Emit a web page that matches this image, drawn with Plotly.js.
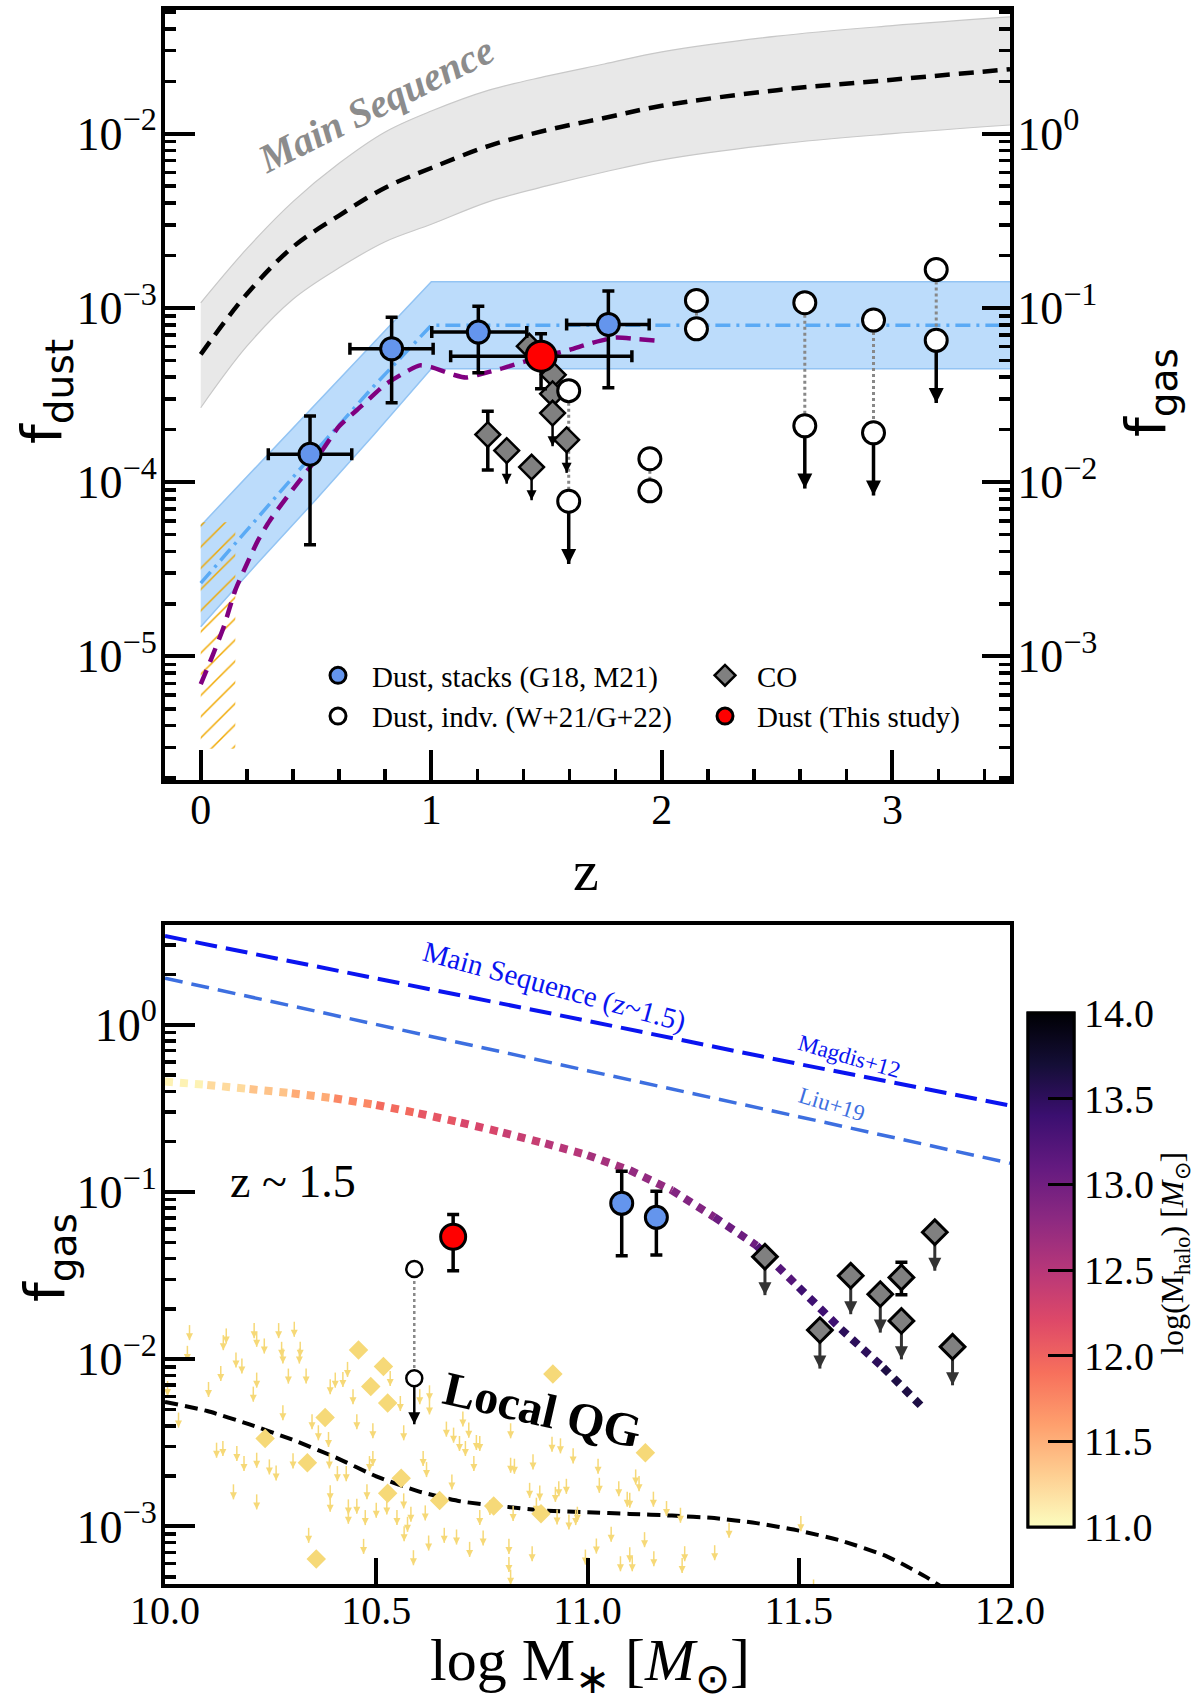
<!DOCTYPE html>
<html>
<head>
<meta charset="utf-8">
<script src="https://cdn.plot.ly/plotly-3.0.1.min.js"></script>
<style>body{margin:0;background:#fff}</style>
</head>
<body>
<div id="myDiv"></div>
<script>
// all f values below are log10

// ---- top panel: f_dust vs z ----
// main sequence band (grey) and its dashed middle line
let msZ = [0, 0.2, 0.4, 0.6, 0.8, 1.0, 1.25, 1.5, 1.75, 2.0, 2.5, 3.0, 3.51]
let msMid = [-3.267, -2.92, -2.65, -2.47, -2.31, -2.197, -2.07, -1.98, -1.91, -1.84, -1.75, -1.69, -1.63]
let msHi = [-2.971, -2.66, -2.39, -2.17, -1.99, -1.87, -1.75, -1.67, -1.60, -1.53, -1.44, -1.38, -1.33]
let msLo = [-3.573, -3.22, -2.95, -2.77, -2.62, -2.52, -2.39, -2.30, -2.22, -2.15, -2.06, -2.00, -1.95]

// stacked dust band (blue) with dash-dot middle
let bandZ = [0, 0.25, 0.5, 0.75, 1.0, 3.51]
let bandHi = [-4.25, -3.9, -3.55, -3.2, -2.85, -2.85]
let bandLo = [-4.83, -4.46, -4.1, -3.73, -3.35, -3.35]
let bandMid = [-4.58, -4.2, -3.82, -3.45, -3.10, -3.10]

// purple model curve
let purpleZ = [0, 0.05, 0.1, 0.15, 0.2, 0.25, 0.3, 0.4, 0.5, 0.6, 0.7, 0.8, 0.9, 0.95, 1.0, 1.1, 1.15, 1.2, 1.3, 1.4, 1.5, 1.6, 1.7, 1.8, 1.9, 2.0]
let purpleF = [-5.16, -5.0, -4.83, -4.62, -4.47, -4.33, -4.22, -4.04, -3.87, -3.68, -3.56, -3.44, -3.36, -3.33, -3.34, -3.385, -3.40, -3.385, -3.35, -3.31, -3.275, -3.24, -3.20, -3.17, -3.18, -3.19]

// local galaxies hatched box
let localZ = [0, 0.15]
let localF = [-4.23, -5.53]

// dust stacks (G18, M21)
let stackZ = [0.474, 0.828, 1.204, 1.768]
let stackZLo = [0.293, 0.647, 1.002, 1.587]
let stackZHi = [0.655, 1.008, 1.414, 1.945]
let stackF = [-3.84, -3.235, -3.139, -3.095]
let stackFHi = [-3.62, -3.053, -2.99, -2.903]
let stackFLo = [-4.36, -3.544, -3.372, -3.458]

// this study
let studyZ = [1.476]
let studyZLo = [1.084]
let studyZHi = [1.87]
let studyF = [-3.277]
let studyFHi = [-3.148]
let studyFLo = [-3.464]

// individual dust (W+21/G+22): two estimates per object
let indvZ = [1.596, 1.948, 2.15, 2.62, 2.918, 3.19]
let indvTop = [-3.475, -3.866, -2.957, -2.97, -3.07, -2.78]
let indvBot = [-4.11, -4.05, -3.12, -3.677, -3.717, -3.186]
let indvLimit = [true, false, false, true, true, true]

// CO
let coZ = [1.425, 1.529, 1.526, 1.526, 1.587, 1.245, 1.327, 1.435]
let coF = [-3.22, -3.384, -3.493, -3.604, -3.757, -3.727, -3.819, -3.914]
let coFHi = [NaN, NaN, NaN, NaN, NaN, -3.593, NaN, NaN]
let coFLo = [NaN, NaN, NaN, NaN, NaN, -3.93, NaN, NaN]
let coLimit = [false, false, false, true, true, false, true, true]

// ---- bottom panel: f_gas vs log M* ----
let seqM = [10.0, 10.5, 11.0, 11.5, 12.0]
let magdisF = [0.53, 0.278, 0.023, -0.235, -0.483]
let liuF = [0.278, 0.0, -0.275, -0.55, -0.828]

let haloM = [10.0, 10.1, 10.2, 10.3, 10.4, 10.5, 10.6, 10.7, 10.8, 10.9, 11.0, 11.1, 11.2, 11.3, 11.4, 11.5, 11.6, 11.7, 11.79]
let haloF = [-0.34, -0.36, -0.385, -0.41, -0.44, -0.48, -0.53, -0.585, -0.645, -0.71, -0.78, -0.87, -0.99, -1.15, -1.32, -1.57, -1.82, -2.05, -2.28]
let haloMass = [11.0, 11.15, 11.3, 11.45, 11.6, 11.9, 12.0, 12.2, 12.3, 12.45, 12.55, 12.7, 12.8, 12.95, 13.12, 13.3, 13.45, 13.58, 13.68]

let qgCurveM = [10.0, 10.1, 10.2, 10.3, 10.4, 10.5, 10.6, 10.7, 10.8, 10.9, 11.0, 11.1, 11.2, 11.3, 11.4, 11.5, 11.6, 11.7, 11.75, 11.8, 11.85]
let qgCurveF = [-2.255, -2.31, -2.39, -2.48, -2.583, -2.70, -2.79, -2.85, -2.88, -2.905, -2.915, -2.925, -2.935, -2.95, -2.98, -3.025, -3.085, -3.17, -3.23, -3.30, -3.38]

// local QG detections (diamonds) and upper limits (small arrows)
let qgDetM = [10.458, 10.517, 10.487, 10.527, 10.379, 10.237, 10.337, 10.559, 10.527, 10.65, 10.778, 10.358, 10.89, 10.918, 11.137]
let qgDetF = [-1.945, -2.044, -2.163, -2.262, -2.349, -2.474, -2.619, -2.712, -2.802, -2.845, -2.877, -3.195, -2.924, -2.089, -2.56]
let qgLimM = [10.058, 10.053, 10.145, 10.138, 10.211, 10.217, 10.235, 10.269, 10.276, 10.279, 10.306, 10.32, 10.318, 10.168, 10.182,
  10.132, 10.217, 10.103, 10.209, 10.292, 10.334, 10.391, 10.403, 10.421, 10.432, 10.445, 10.279, 10.348, 10.363, 10.387,
  10.454, 10.492, 10.533, 10.557, 10.565, 10.603, 10.626, 10.626, 10.122, 10.137, 10.17, 10.187, 10.217, 10.247, 10.263,
  10.303, 10.162, 10.217, 10.389, 10.408, 10.429, 10.391, 10.391, 10.434, 10.454, 10.492, 10.484, 10.478, 10.474, 10.5,
  10.434, 10.525, 10.549, 10.565, 10.574, 10.582, 10.566, 10.616, 10.588, 10.624, 10.34, 10.47, 10.611, 10.619, 10.032,
  10.006, 10.705, 10.666, 10.683, 10.719, 10.697, 10.737, 10.745, 10.711, 10.731, 10.818, 10.916, 10.936, 10.966, 10.818,
  10.827, 10.871, 10.679, 11.025, 11.028, 11.074, 11.114, 11.122, 10.863, 10.887, 10.924, 10.932, 10.95, 10.879, 10.769,
  11.156, 11.094, 11.1, 11.187, 11.22, 10.976, 10.956, 10.972, 10.928, 10.745, 10.824, 10.661, 10.69, 10.753, 10.721,
  10.814, 10.869, 11.021, 11.056, 11.135, 11.335, 11.505, 11.078, 11.1, 11.106, 11.157, 11.23, 11.224, 11.301, 10.814,
  10.818, 10.995, 11.535]
let qgLimF = [-1.796, -1.92, -1.816, -1.856, -1.784, -1.836, -1.876, -1.784, -1.896, -1.936, -1.776, -1.896, -1.936, -1.96, -1.996,
  -2.04, -2.08, -2.136, -2.164, -2.056, -2.056, -2.12, -2.08, -2.076, -2.016, -2.18, -2.275, -2.329, -2.395, -2.435,
  -2.329, -2.383, -2.07, -2.22, -2.395, -2.18, -2.24, -2.156, -2.499, -2.489, -2.519, -2.579, -2.559, -2.599, -2.635,
  -2.563, -2.748, -2.808, -2.563, -2.639, -2.639, -2.754, -2.822, -2.838, -2.834, -2.549, -2.579, -2.748, -2.902, -2.858,
  -2.894, -2.838, -2.902, -2.802, -2.942, -2.882, -2.998, -2.874, -3.142, -3.054, -3.008, -3.074, -2.549, -2.615, -2.319,
  -2.13, -2.313, -2.373, -2.409, -2.379, -2.459, -2.453, -2.459, -2.489, -2.579, -2.383, -2.463, -2.473, -2.533, -2.589,
  -2.595, -2.569, -2.689, -2.595, -2.709, -2.729, -2.659, -2.699, -2.739, -2.755, -2.763, -2.729, -2.715, -2.828, -2.842,
  -2.792, -2.792, -2.798, -2.848, -2.888, -2.882, -2.928, -2.902, -2.898, -2.902, -2.878, -3.008, -3.018, -3.024, -3.092,
  -3.074, -3.118, -3.072, -3.002, -3.034, -2.978, -2.938, -3.178, -3.124, -3.178, -3.148, -3.118, -3.188, -3.112, -3.182,
  -3.258, -3.138, -3.317]

let bStackM = [11.081, 11.163]
let bStackF = [-1.068, -1.152]
let bStackFHi = [-0.876, -0.996]
let bStackFLo = [-1.381, -1.377]

let bStudyM = [10.682]
let bStudyF = [-1.268]
let bStudyFHi = [-1.135]
let bStudyFLo = [-1.471]

let bIndvM = [10.59]
let bIndvTop = [-1.461]
let bIndvBot = [-2.114]

let bCoM = [11.42, 11.55, 11.623, 11.693, 11.743, 11.743, 11.822, 11.864]
let bCoF = [-1.387, -1.826, -1.501, -1.611, -1.511, -1.771, -1.241, -1.926]
let bCoFHi = [NaN, NaN, NaN, NaN, -1.421, NaN, NaN, NaN]
let bCoFLo = [NaN, NaN, NaN, NaN, -1.615, NaN, NaN, NaN]
let bCoLimit = [true, true, true, true, false, true, true, true]

// ---- helpers ----
const W = 1200, H = 1704
const p10 = v => Math.pow(10, v)
const lin = arr => arr.map(p10)
const px = x => x / W
const py = y => 1 - y / H
const serif = 'Liberation Serif, Times New Roman, serif'
const sans = 'DejaVu Sans, sans-serif'

// magma colormap (matplotlib deciles), flipped so 11 is pale and 14 is black
let magma = ['#000004', '#140e36', '#3b0f70', '#641a80', '#8c2981', '#b73779', '#de4968', '#f7705c', '#fe9f6d', '#fecf92', '#fcfdbf']
let magmaRev = magma.slice().reverse().map((c, i) => [i / 10, c])
function hex2rgb (h) { return [1, 3, 5].map(k => parseInt(h.substr(k, 2), 16)) }
function haloColor (m) {
  let t = Math.min(Math.max((m - 11) / 3, 0), 1) * 10
  let i = Math.min(Math.floor(t), 9)
  let a = hex2rgb(magmaRev[i][1]), b = hex2rgb(magmaRev[i + 1][1])
  let f = t - i
  let c = a.map((v, k) => Math.round(v + (b[k] - v) * f))
  return 'rgb(' + c.join(',') + ')'
}

// upper-limit arrows: shaft from value down by `dex`, arrowhead at the tip
function limitArrows (xs, ys, dex, color, width, head, xa, ya) {
  let sx = [], sy = [], hx = [], hy = []
  xs.forEach((x, i) => {
    sx.push(x, x, null)
    sy.push(p10(ys[i]), p10(ys[i] - dex), null)
    hx.push(x)
    hy.push(p10(ys[i] - dex))
  })
  return [
    {x: sx, y: sy, xaxis: xa, yaxis: ya, mode: 'lines', line: {color: color, width: width}, showlegend: false, hoverinfo: 'skip'},
    {x: hx, y: hy, xaxis: xa, yaxis: ya, mode: 'markers', marker: {symbol: 'arrow-down', size: head, color: color, line: {width: 0}}, showlegend: false, hoverinfo: 'skip'}
  ]
}
function pick (arr, mask) { return arr.filter((v, i) => mask[i]) }
function errY (f, hi, lo) {
  return {type: 'data', symmetric: false, color: '#000', thickness: 3.5, width: 6,
    array: f.map((v, i) => p10(hi[i]) - p10(v)), arrayminus: f.map((v, i) => p10(v) - p10(lo[i]))}
}
function errX (z, hi, lo) {
  return {type: 'data', symmetric: false, color: '#000', thickness: 3.5, width: 6,
    array: z.map((v, i) => hi[i] - v), arrayminus: z.map((v, i) => v - lo[i])}
}
function decadeTicks (a, b) {
  let v = [], t = []
  for (let d = a; d <= b; d++) { v.push(p10(d)); t.push('10<sup>' + (d < 0 ? '\u2212' + (-d) : d) + '</sup>') }
  return {v: v, t: t}
}
function minorTicks (a, b) {
  let v = []
  for (let d = a; d <= b; d++) for (let k = 2; k <= 9; k++) v.push(k * p10(d))
  return v
}

let traces = []

// ---- top panel traces ----
traces.push({x: msZ, y: lin(msLo), mode: 'lines', line: {color: '#c8c8c8', width: 1.2, shape: 'spline'}, showlegend: false, hoverinfo: 'skip'})
traces.push({x: msZ, y: lin(msHi), mode: 'lines', fill: 'tonexty', fillcolor: '#e8e8e8', line: {color: '#c8c8c8', width: 1.2, shape: 'spline'}, showlegend: false, hoverinfo: 'skip'})
traces.push({x: msZ, y: lin(msMid), mode: 'lines', line: {color: '#000', width: 4.5, dash: '15px,9px', shape: 'spline'}, showlegend: false})

traces.push({x: bandZ, y: lin(bandLo), mode: 'lines', line: {color: '#93c4f3', width: 1.5}, showlegend: false, hoverinfo: 'skip'})
traces.push({x: bandZ, y: lin(bandHi), mode: 'lines', fill: 'tonexty', fillcolor: '#bcdcfb', line: {color: '#93c4f3', width: 1.5}, showlegend: false, hoverinfo: 'skip'})
traces.push({x: [localZ[0], localZ[1], localZ[1], localZ[0], localZ[0]],
  y: [p10(localF[0]), p10(localF[0]), p10(localF[1]), p10(localF[1]), p10(localF[0])],
  mode: 'lines', fill: 'toself', fillcolor: 'rgba(0,0,0,0)', line: {width: 0},
  fillpattern: {shape: '/', fgcolor: '#f0a800', bgcolor: 'rgba(0,0,0,0)', size: 15, solidity: 0.1},
  showlegend: false, hoverinfo: 'skip'})
traces.push({x: bandZ, y: lin(bandMid), mode: 'lines', line: {color: '#5aaaf5', width: 3.5, dash: '15px,6px,3px,6px'}, showlegend: false})
traces.push({x: purpleZ, y: lin(purpleF), mode: 'lines', line: {color: '#800080', width: 4.5, dash: '15px,9px', shape: 'spline', smoothing: 0.6}, showlegend: false})

// dotted connectors between the two estimates
let conX = [], conY = []
indvZ.forEach((z, i) => { conX.push(z, z, null); conY.push(p10(indvTop[i]), p10(indvBot[i]), null) })
traces.push({x: conX, y: conY, mode: 'lines', line: {color: '#888', width: 3, dash: 'dot'}, showlegend: false, hoverinfo: 'skip'})
traces.push(...limitArrows(pick(indvZ, indvLimit), pick(indvBot, indvLimit), 0.36, '#000', 3.5, 15, 'x', 'y'))
traces.push(...limitArrows(pick(coZ, coLimit), pick(coF, coLimit), 0.19, '#000', 2.5, 10, 'x', 'y'))

traces.push({x: coZ, y: lin(coF), mode: 'markers', name: 'CO', legend: 'legend2',
  marker: {symbol: 'diamond', size: 19, color: '#808080', line: {color: '#000', width: 2.5}},
  error_y: errY(coF, coFHi, coFLo)})
traces.push({x: stackZ, y: lin(stackF), mode: 'markers', name: 'Dust, stacks (G18, M21)',
  marker: {symbol: 'circle', size: 22, color: '#6495ed', line: {color: '#000', width: 3}},
  error_y: errY(stackF, stackFHi, stackFLo), error_x: errX(stackZ, stackZHi, stackZLo)})
traces.push({x: indvZ.concat(indvZ), y: lin(indvTop.concat(indvBot)), mode: 'markers', name: 'Dust, indv. (W+21/G+22)',
  marker: {symbol: 'circle', size: 22, color: '#fff', line: {color: '#000', width: 3}}})
traces.push({x: studyZ, y: lin(studyF), mode: 'markers', name: 'Dust (This study)', legend: 'legend2',
  marker: {symbol: 'circle', size: 30, color: '#ff0000', line: {color: '#000', width: 3}},
  error_y: errY(studyF, studyFHi, studyFLo), error_x: errX(studyZ, studyZHi, studyZLo)})
// hook so the right-hand f_gas axis is drawn
traces.push({x: [null], y: [null], xaxis: 'x', yaxis: 'y2', mode: 'markers', showlegend: false, hoverinfo: 'skip'})

// ---- bottom panel traces ----
const XB = 'x2', YB = 'y3'
traces.push({x: qgCurveM, y: lin(qgCurveF), xaxis: XB, yaxis: YB, mode: 'lines', line: {color: '#000', width: 4, dash: '13px,7px', shape: 'spline', smoothing: 0.6}, showlegend: false})
traces.push(...limitArrows(qgLimM, qgLimF, 0.09, '#f6d978', 1.5, 7, XB, YB))
traces.push({x: qgDetM, y: lin(qgDetF), xaxis: XB, yaxis: YB, mode: 'markers', marker: {symbol: 'diamond', size: 15, color: '#f6d978'}, showlegend: false})
traces.push({x: seqM, y: lin(magdisF), xaxis: XB, yaxis: YB, mode: 'lines', line: {color: '#0a14f0', width: 4, dash: '22px,9px'}, showlegend: false})
traces.push({x: seqM, y: lin(liuF), xaxis: XB, yaxis: YB, mode: 'lines', line: {color: '#3d6fe0', width: 3.5, dash: '18px,9px'}, showlegend: false})
for (let i = 0; i < haloM.length - 1; i++) {
  traces.push({x: [haloM[i], haloM[i + 1]], y: [p10(haloF[i]), p10(haloF[i + 1])], xaxis: XB, yaxis: YB, mode: 'lines',
    line: {color: haloColor((haloMass[i] + haloMass[i + 1]) / 2), width: 8, dash: '8px,7px'}, showlegend: false, hoverinfo: 'skip'})
}
traces.push(...limitArrows(pick(bCoM, bCoLimit), pick(bCoF, bCoLimit), 0.23, '#333', 3, 13, XB, YB))
traces.push({x: bCoM, y: lin(bCoF), xaxis: XB, yaxis: YB, mode: 'markers', showlegend: false,
  marker: {symbol: 'diamond', size: 19, color: '#808080', line: {color: '#000', width: 3}},
  error_y: errY(bCoF, bCoFHi, bCoFLo)})
traces.push({x: [bIndvM[0], bIndvM[0]], y: [p10(bIndvTop[0]), p10(bIndvBot[0])], xaxis: XB, yaxis: YB, mode: 'lines', line: {color: '#888', width: 2.5, dash: 'dot'}, showlegend: false, hoverinfo: 'skip'})
traces.push(...limitArrows(bIndvM, bIndvBot, 0.275, '#000', 2.5, 12, XB, YB))
traces.push({x: bIndvM.concat(bIndvM), y: lin(bIndvTop.concat(bIndvBot)), xaxis: XB, yaxis: YB, mode: 'markers', showlegend: false,
  marker: {symbol: 'circle', size: 16, color: '#fff', line: {color: '#000', width: 2.5}}})
traces.push({x: bStackM, y: lin(bStackF), xaxis: XB, yaxis: YB, mode: 'markers', showlegend: false,
  marker: {symbol: 'circle', size: 22, color: '#6495ed', line: {color: '#000', width: 3}},
  error_y: errY(bStackF, bStackFHi, bStackFLo)})
traces.push({x: bStudyM, y: lin(bStudyF), xaxis: XB, yaxis: YB, mode: 'markers', showlegend: false,
  marker: {symbol: 'circle', size: 25, color: '#ff0000', line: {color: '#000', width: 3}},
  error_y: errY(bStudyF, bStudyFHi, bStudyFLo)})

// colour bar (minor ticks first, then major ticks with labels)
let cbBase = {x: px(1028), xanchor: 'left', xpad: 0, y: py(1013), yanchor: 'top', ypad: 0,
  len: 514 / H, lenmode: 'fraction', thickness: 46, thicknessmode: 'pixels',
  outlinewidth: 3, outlinecolor: '#000', ticks: 'inside', tickcolor: '#000'}
traces.push({x: haloM, y: lin(haloF), xaxis: XB, yaxis: YB, mode: 'markers', showlegend: false, hoverinfo: 'skip',
  marker: {size: 1, opacity: 0, color: haloMass, colorscale: magmaRev, cmin: 11, cmax: 14, showscale: true,
    colorbar: Object.assign({}, cbBase, {tickmode: 'linear', tick0: 11, dtick: 0.1, ticklen: 10, tickwidth: 3, showticklabels: false})}})
traces.push({x: haloM, y: lin(haloF), xaxis: XB, yaxis: YB, mode: 'markers', showlegend: false, hoverinfo: 'skip',
  marker: {size: 1, opacity: 0, color: haloMass, colorscale: magmaRev, cmin: 11, cmax: 14, showscale: true,
    colorbar: Object.assign({}, cbBase, {tickmode: 'linear', tick0: 11, dtick: 0.5, ticklen: 27, tickwidth: 3,
      tickformat: '.1f', tickfont: {family: serif, size: 40, color: '#000'}})}})

// ---- layout ----
let axBase = {showgrid: false, zeroline: false, showline: true, linewidth: 4, linecolor: '#000',
  ticks: 'inside', tickcolor: '#000'}
let logFont = {family: serif, size: 46, color: '#000'}
let dustTicks = decadeTicks(-6, -1)
let gasTicks = decadeTicks(-4, 1)
let logMinor = {tickmode: 'array', tickvals: minorTicks(-7, 1), ticks: 'inside', ticklen: 11, tickwidth: 3.5, tickcolor: '#000'}

let layout = {
  width: W, height: H,
  margin: {l: 0, r: 0, t: 0, b: 0},
  paper_bgcolor: '#fff', plot_bgcolor: '#fff',
  showlegend: true,
  xaxis: Object.assign({}, axBase, {domain: [px(165), px(1010)], anchor: 'y', range: [-0.155, 3.51], mirror: true,
    tickmode: 'array', tickvals: [0, 1, 2, 3], ticklen: 30, tickwidth: 4, ticklabelstandoff: -10,
    tickfont: {family: serif, size: 42, color: '#000'},
    minor: {tick0: 0, dtick: 0.2, ticks: 'inside', ticklen: 11, tickwidth: 3.5, tickcolor: '#000'}}),
  yaxis: Object.assign({}, axBase, {domain: [py(780), py(10)], anchor: 'x', type: 'log', range: [-5.71, -1.29],
    tickmode: 'array', tickvals: dustTicks.v, ticktext: dustTicks.t, ticklen: 30, tickwidth: 4, tickfont: logFont,
    ticklabelstandoff: -5, minor: logMinor}),
  yaxis2: Object.assign({}, axBase, {overlaying: 'y', side: 'right', anchor: 'x', type: 'log', range: [-3.71, 0.71],
    tickmode: 'array', tickvals: gasTicks.v, ticktext: gasTicks.t, ticklen: 28, tickwidth: 4, tickfont: logFont,
    ticklabelstandoff: -6, minor: logMinor}),
  xaxis2: Object.assign({}, axBase, {domain: [px(165), px(1010)], anchor: 'y3', range: [10, 12], mirror: true,
    tickmode: 'array', tickvals: [10, 10.5, 11, 11.5, 12], tickformat: '.1f', ticklen: 26, tickwidth: 4,
    ticklabelstandoff: -12, tickfont: {family: serif, size: 40, color: '#000'}}),
  yaxis3: Object.assign({}, axBase, {domain: [py(1584), py(925)], anchor: 'x2', type: 'log', range: [-3.344, 0.596], mirror: true,
    tickmode: 'array', tickvals: gasTicks.v, ticktext: gasTicks.t, ticklen: 30, tickwidth: 4, tickfont: logFont,
    ticklabelstandoff: -5, minor: logMinor}),
  legend: {x: px(304), y: py(650), xanchor: 'left', yanchor: 'top', bgcolor: 'rgba(0,0,0,0)', borderwidth: 0,
    traceorder: 'normal', itemwidth: 58, font: {family: serif, size: 29, color: '#000'}, itemsizing: 'trace'},
  legend2: {x: px(693), y: py(650), xanchor: 'left', yanchor: 'top', bgcolor: 'rgba(0,0,0,0)', borderwidth: 0,
    traceorder: 'normal', itemwidth: 54, font: {family: serif, size: 29, color: '#000'}, itemsizing: 'trace'},
  annotations: [
    {text: 'f<sub>dust</sub>', x: px(45), y: py(392), textangle: -90, font: {family: sans, size: 56, color: '#000'}},
    {text: 'f<sub>gas</sub>', x: px(1150), y: py(393), textangle: -90, font: {family: sans, size: 56, color: '#000'}},
    {text: 'z', x: px(586), y: py(870), font: {family: serif, size: 58, color: '#000'}},
    {text: 'f<sub>gas</sub>', x: px(48), y: py(1258), textangle: -90, font: {family: sans, size: 56, color: '#000'}},
    {text: 'log M<sub>\u2217</sub> [<i>M</i><sub>\u2299</sub>]', x: px(590), y: py(1664), font: {family: serif, size: 60, color: '#000'}},
    {text: '<b><i>Main Sequence</i></b>', x: px(376), y: py(105), textangle: -26.4, font: {family: serif, size: 40, color: '#8c8c8c'}},
    {text: 'Main Sequence (z~1.5)', x: px(554), y: py(986), textangle: 15.3, font: {family: serif, size: 29, color: '#0a14f0'}},
    {text: 'Magdis+12', x: px(849), y: py(1056), textangle: 16, font: {family: serif, size: 23, color: '#0a14f0'}},
    {text: 'Liu+19', x: px(832), y: py(1104), textangle: 17, font: {family: serif, size: 23, color: '#3d6fe0'}},
    {text: 'z ~ 1.5', x: px(293), y: py(1181), font: {family: serif, size: 46, color: '#000'}},
    {text: '<b>Local QG</b>', x: px(542), y: py(1409), textangle: 13, font: {family: serif, size: 48, color: '#000'}},
    {text: 'log(M<sub>halo</sub>) [<i>M</i><sub>\u2299</sub>]', x: px(1174), y: py(1254), textangle: -90, font: {family: serif, size: 32, color: '#000'}}
  ].map(a => Object.assign({xref: 'paper', yref: 'paper', showarrow: false, xanchor: 'center', yanchor: 'middle'}, a))
}

Plotly.newPlot('myDiv', traces, layout, {staticPlot: true})
</script>
</body>
</html>
